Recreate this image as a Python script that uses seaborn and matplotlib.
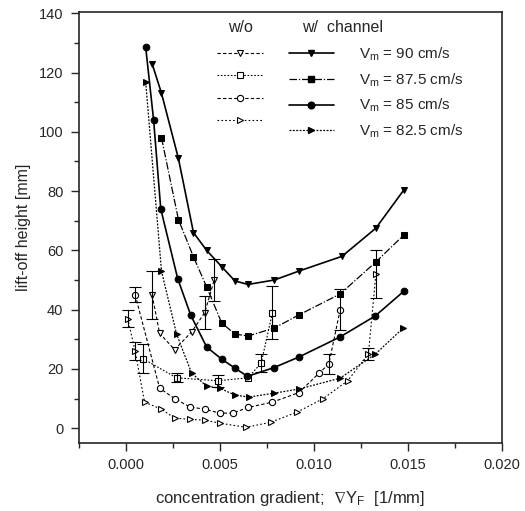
import numpy as np
import pandas as pd
import seaborn as sns
import matplotlib
matplotlib.use("Agg")
import matplotlib.pyplot as plt
from matplotlib.lines import Line2D
from matplotlib.ticker import MultipleLocator

# w/ channel (filled markers)
x90 = [0.0014, 0.0019, 0.0028, 0.0036, 0.0043, 0.0051, 0.0058, 0.0065, 0.0079, 0.0092, 0.0115, 0.0133, 0.0148]
y90 = [123, 113, 91, 66, 60, 54.5, 49.7, 48.5, 50, 53, 58, 67.5, 80.5]
x875 = [0.0019, 0.0028, 0.0036, 0.0043, 0.0051, 0.0058, 0.0065, 0.0079, 0.0092, 0.0114, 0.0133, 0.0148]
y875 = [98, 70.4, 57.8, 47.7, 35.5, 31.8, 31.1, 33.8, 38.2, 45.3, 56.1, 65.3]
x85 = [0.00106, 0.00148, 0.00186, 0.00276, 0.00345, 0.0043, 0.0051, 0.0058, 0.00647, 0.00786, 0.0092, 0.0114, 0.01327, 0.0148]
y85 = [128.5, 104, 74, 50.5, 38.2, 27.4, 23.3, 20.3, 17.5, 20.4, 24, 30.8, 37.9, 46.3]
x825 = [0.00106, 0.0019, 0.0027, 0.0035, 0.0043, 0.0050, 0.0058, 0.00653, 0.00786, 0.0092, 0.0114, 0.01327, 0.01475]
y825 = [116.7, 53, 31.8, 18.6, 14.2, 13.5, 11.2, 10.5, 11.8, 13.2, 16.9, 25, 33.8]

# w/o channel (open markers) with error bars
wo90_x = [0.0014, 0.0018, 0.0026, 0.0035, 0.0042, 0.0047]
wo90_y = [45, 32, 26.5, 32.5, 39, 50]
wo90_e = [8, 0, 0, 0, 5.5, 7]
wo875_x = [0.0009, 0.0027, 0.0049, 0.0065, 0.0072, 0.0078]
wo875_y = [23.5, 17, 16, 17, 22, 39]
wo875_e = [5, 1.5, 2, 0, 3, 9]
wo85_x = [0.0005, 0.0018, 0.0026, 0.0034, 0.0042, 0.005, 0.0057, 0.0065, 0.0078, 0.0092, 0.0103, 0.0108, 0.0114]
wo85_y = [45, 13.5, 10, 7.2, 6.4, 5.1, 5.1, 7, 8.8, 12, 18.7, 21.7, 40]
wo85_e = [2.5, 0, 0, 0, 0, 0, 0, 0, 0, 0, 0, 3.5, 7]
wo825_x = [0.0001, 0.0005, 0.001, 0.0019, 0.0026, 0.0034, 0.0042, 0.005, 0.0064, 0.0077, 0.0091, 0.0105, 0.0118, 0.0129, 0.0133]
wo825_y = [37, 26, 8.8, 6.4, 3.4, 3, 2.7, 1.7, 0.3, 2, 5.4, 10, 16, 25, 52]
wo825_e = [3, 3, 0, 0, 0, 0, 0, 0, 0, 0, 0, 0, 0, 2, 8]

labels = ["90", "87.5", "85", "82.5"]

sns.set_style("ticks")
plt.rcParams["font.family"] = ["Liberation Sans", "DejaVu Sans"]
plt.rcParams["mathtext.default"] = "regular"

fig = plt.figure(figsize=(5.25, 5.11), dpi=100)
ax = fig.add_axes([0.150, 0.133, 0.806, 0.844])

filled = [(x90, y90, "v", "-", 1.2, 5), (x875, y875, "s", (0, (6, 1.5, 1, 1.5)), 0.9, 4),
          (x85, y85, "o", "-", 1.2, 4.8), (x825, y825, ">", (0, (1.5, 1.2)), 0.9, 5)]
open_ = [(wo90_x, wo90_y, wo90_e, "v", (0, (3, 2))), (wo875_x, wo875_y, wo875_e, "s", (0, (1.5, 1.5))),
         (wo85_x, wo85_y, wo85_e, "o", (0, (3, 2))), (wo825_x, wo825_y, wo825_e, ">", (0, (1.5, 2)))]

for xs, ys, es, m, ls in open_:
    df = pd.DataFrame({"x": xs, "y": ys})
    sns.lineplot(data=df, x="x", y="y", ax=ax, sort=False, color="black", lw=0.8,
                 linestyle=ls, marker=m, markersize=4.5, markerfacecolor="white",
                 markeredgecolor="black", markeredgewidth=0.8)
    e = np.array(es, dtype=float)
    mask = e > 0
    ax.errorbar(np.array(xs)[mask], np.array(ys)[mask], yerr=e[mask], fmt="none",
                ecolor="black", elinewidth=0.8, capsize=4, capthick=0.8)

for xs, ys, m, ls, lw, ms in filled:
    df = pd.DataFrame({"x": xs, "y": ys})
    sns.lineplot(data=df, x="x", y="y", ax=ax, sort=False, color="black", lw=lw,
                 linestyle=ls, marker=m, markersize=ms, markeredgecolor="black")

ax.set_xlim(-0.0025, 0.020)
ax.set_ylim(-5, 140.5)
ax.xaxis.set_major_locator(MultipleLocator(0.005))
ax.xaxis.set_minor_locator(MultipleLocator(0.0025))
ax.yaxis.set_major_locator(MultipleLocator(20))
ax.yaxis.set_minor_locator(MultipleLocator(10))
ax.xaxis.set_major_formatter(matplotlib.ticker.FormatStrFormatter("%.3f"))
ax.tick_params(which="major", direction="out", length=6, width=1, labelsize=10.5, pad=5)
ax.tick_params(which="minor", direction="out", length=3.5, width=1)
for s in ax.spines.values():
    s.set_linewidth(1.2)
    s.set_visible(True)

ax.set_xlabel("concentration gradient;  $\\nabla$Y$_F$  [1/mm]", fontsize=12, labelpad=12)
ax.set_ylabel("lift-off height [mm]", fontsize=11.5, labelpad=6)

# legend
handles = []
for xs, ys, es, m, ls in open_:
    handles.append(Line2D([], [], color="black", lw=0.8, ls=ls, marker=m, markersize=4.5,
                          markerfacecolor="white", markeredgewidth=0.8))
for xs, ys, m, ls, lw, ms in filled:
    handles.append(Line2D([], [], color="black", lw=lw, ls=ls, marker=m, markersize=ms))
leg_labels = [""] * 4 + ["V$_m$ = %s cm/s" % v for v in labels]
ax.legend(handles, leg_labels, ncol=2, loc="upper left", bbox_to_anchor=(0.326, 0.922),
          frameon=False, fontsize=11, handlelength=3.0, handletextpad=1.6,
          columnspacing=0.1, labelspacing=0.55, borderpad=0, borderaxespad=0)
ax.text(0.381, 0.963, "w/o", transform=ax.transAxes, ha="center", va="center", fontsize=11.5)
ax.text(0.527, 0.963, "w/  channel", transform=ax.transAxes, ha="left", va="center", fontsize=11.5)

fig.savefig("out.png", dpi=100)
